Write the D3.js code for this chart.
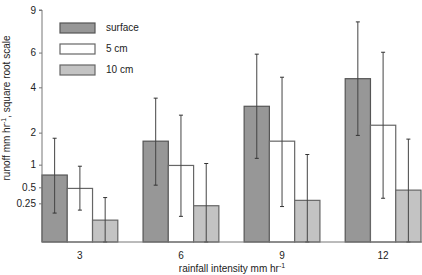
<!DOCTYPE html>
<html>
<head>
<meta charset="utf-8">
<script src="https://cdn.jsdelivr.net/npm/d3@7"></script>
<style>
  body { margin: 0; background: #fff; }
  text { font-family: "Liberation Sans", Arial, sans-serif; }
</style>
</head>
<body>
<div id="chart"></div>
<script>
// data
var intensities = ["3", "6", "9", "12"];
var depths = ["surface", "5 cm", "10 cm"];
var surfaceMean = [0.75, 1.70, 3.08, 4.46];
var surfaceLow = [0.14, 0.54, 1.17, 1.90];
var surfaceHigh = [1.80, 3.46, 5.90, 8.10];
var cm5Mean = [0.48, 0.98, 1.70, 2.28];
var cm5Low = [0.17, 0.11, 0.21, 0.32];
var cm5High = [0.96, 2.69, 4.54, 6.02];
var cm10Mean = [0.08, 0.22, 0.29, 0.45];
var cm10Low = [0, 0, 0, 0];
var cm10High = [0.33, 1.03, 1.28, 1.77];
var yTicks = [0.25, 0.5, 1, 2, 4, 6, 9];

var fills = ["#979797", "#ffffff", "#c3c3c3"];
var strokes = ["#555555", "#666666", "#666666"];

var width = 422, height = 275;
var svg = d3.select("#chart")
    .append("svg")
    .attr("width", width)
    .attr("height", height);

var x0 = d3.scaleBand()
    .domain(intensities)
    .range([42, 421])
    .paddingInner(0.25)
    .paddingOuter(0);

var x1 = d3.scaleBand()
    .domain(depths)
    .range([0, x0.bandwidth()]);

var y = d3.scaleSqrt()
    .domain([0, 9])
    .range([242, 10]);

var rows = [];
intensities.forEach(function (k, i) {
    rows.push({ cat: k, dep: depths[0], idx: 0, mean: surfaceMean[i], lo: surfaceLow[i], hi: surfaceHigh[i] });
    rows.push({ cat: k, dep: depths[1], idx: 1, mean: cm5Mean[i], lo: cm5Low[i], hi: cm5High[i] });
    rows.push({ cat: k, dep: depths[2], idx: 2, mean: cm10Mean[i], lo: cm10Low[i], hi: cm10High[i] });
});

// bars
svg.selectAll("rect.bar")
    .data(rows)
    .enter()
    .append("rect")
    .attr("class", "bar")
    .attr("x", function (d) { return x0(d.cat) + x1(d.dep); })
    .attr("y", function (d) { return y(d.mean); })
    .attr("width", x1.bandwidth())
    .attr("height", function (d) { return y(0) - y(d.mean); })
    .attr("fill", function (d) { return fills[d.idx]; })
    .attr("stroke", function (d) { return strokes[d.idx]; })
    .attr("stroke-width", 1.2);

// error bars
var err = svg.selectAll("g.err")
    .data(rows)
    .enter()
    .append("g")
    .attr("class", "err")
    .attr("transform", function (d) {
        return "translate(" + (x0(d.cat) + x1(d.dep) + x1.bandwidth() / 2) + ",0)";
    });

err.append("line")
    .attr("y1", function (d) { return y(d.lo); })
    .attr("y2", function (d) { return y(d.hi); })
    .attr("stroke", "#444")
    .attr("stroke-width", 1);

err.append("line")
    .attr("x1", -2).attr("x2", 2)
    .attr("y1", function (d) { return y(d.hi); })
    .attr("y2", function (d) { return y(d.hi); })
    .attr("stroke", "#333");

err.append("line")
    .attr("x1", -2).attr("x2", 2)
    .attr("y1", function (d) { return y(d.lo); })
    .attr("y2", function (d) { return y(d.lo); })
    .attr("stroke", "#333");

// Y axis
var yAxis = svg.append("g")
    .attr("transform", "translate(42,0)")
    .call(d3.axisLeft(y).tickValues(yTicks).tickSize(3).tickPadding(3)
        .tickFormat(function (d) { return d; }));
yAxis.select(".domain").attr("stroke", "#777").attr("d", "M-3,10H0V242");
yAxis.selectAll(".tick line").attr("stroke", "#777");
yAxis.selectAll("text").style("font-size", "10px").attr("fill", "#222");

// X axis
var xAxis = svg.append("g")
    .attr("transform", "translate(0,242)")
    .call(d3.axisBottom(x0).tickSize(0).tickPadding(10));
xAxis.select(".domain").attr("stroke", "#777").attr("d", "M42,0H422");
xAxis.selectAll("text").style("font-size", "10px").attr("fill", "#222");

// axis titles
var xt = svg.append("text")
    .attr("x", 232)
    .attr("y", 272)
    .attr("text-anchor", "middle")
    .style("font-size", "10px")
    .attr("fill", "#222");
xt.append("tspan").text("rainfall intensity mm hr");
xt.append("tspan").attr("dy", -4).style("font-size", "7px").text("-1");

var yt = svg.append("text")
    .attr("transform", "translate(10,108) rotate(-90)")
    .attr("text-anchor", "middle")
    .style("font-size", "10px")
    .attr("fill", "#222");
yt.append("tspan").text("runoff mm hr");
yt.append("tspan").attr("dy", -4).style("font-size", "7px").text("-1");
yt.append("tspan").attr("dy", 4).text(", square root scale");

// legend
var legend = svg.selectAll("g.legend")
    .data(depths)
    .enter()
    .append("g")
    .attr("class", "legend")
    .attr("transform", function (d, i) { return "translate(60," + (23 + i * 21) + ")"; });

legend.append("rect")
    .attr("width", 35)
    .attr("height", 10)
    .attr("fill", function (d, i) { return fills[i]; })
    .attr("stroke", function (d, i) { return strokes[i]; })
    .attr("stroke-width", 1.2);

legend.append("text")
    .attr("x", 46)
    .attr("y", 8)
    .style("font-size", "10px")
    .attr("fill", "#222")
    .text(function (d) { return d; });
</script>
</body>
</html>
